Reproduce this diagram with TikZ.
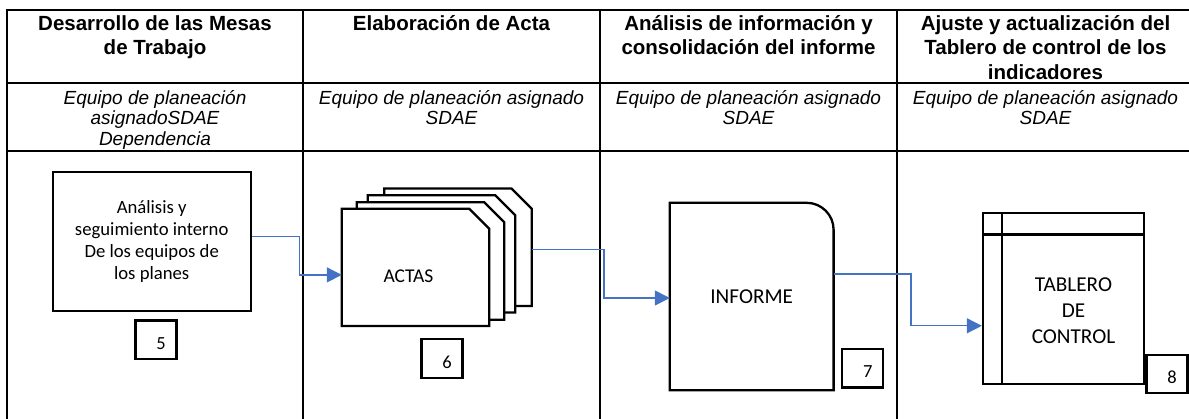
\documentclass[tikz,border=0pt]{standalone}
\usepackage{fontspec}
\usepackage{tikz}
\usetikzlibrary{arrows.meta}
\newfontfamily\arialfont{Liberation Sans}
\newfontfamily\calibrifont{Carlito}
\definecolor{flowblue}{HTML}{4472C4}
\tikzset{
  tabline/.style={line width=1.8pt, black},
  boxline/.style={line width=2.3pt, black},
  headtxt/.style={anchor=north, inner sep=0pt, align=center,
    font=\arialfont\bfseries\fontsize{20.5}{24.5}\selectfont},
  roletxt/.style={anchor=north, inner sep=0pt, align=center,
    font=\arialfont\itshape\fontsize{19}{20.5}\selectfont},
  procbox/.style={draw, boxline, inner sep=0pt, align=center,
    font=\calibrifont\fontsize{18.7}{22}\selectfont},
  card/.style={inner sep=0pt, minimum width=147pt, minimum height=117pt},
  cardline/.style={boxline, fill=white},
  bigtxt/.style={inner sep=0pt, align=center,
    font=\calibrifont\fontsize{21.2}{25.9}\selectfont},
  numbox/.style={draw, boxline, inner sep=0pt, minimum width=41pt, minimum height=38.5pt},
  numlbl/.style={xshift=5pt, yshift=-3.5pt, inner sep=0pt,
    font=\calibrifont\fontsize{18.5}{22}\selectfont},
  flow/.style={draw=flowblue, line width=1.3pt, -{Triangle[length=15pt,width=15pt]}}
}
\begin{document}
\begin{tikzpicture}[x=1pt,y=-1pt]
\useasboundingbox (0,0) rectangle (1189,419);
\draw[tabline] (7,419) -- (7,10) -- (1189,10);
\draw[tabline] (7,83) -- (1189,83);
\draw[tabline] (7,151) -- (1189,151);
\foreach \x in {303,600,897}
  \draw[tabline] (\x,10) -- (\x,419);

\node[headtxt] (h1) at (155,15) {Desarrollo de las Mesas\\de Trabajo};
\node[headtxt] (h2) at (451.5,15) {Elaboración de Acta};
\node[headtxt] (h3) at (748.5,15) {Análisis de información y\\consolidación del informe};
\node[headtxt] (h4) at (1045.5,15) {Ajuste y actualización del\\Tablero de control de los\\indicadores};

\node[roletxt] (r1) at (155,90) {Equipo de planeación\\asignadoSDAE\\Dependencia};
\node[roletxt] (r2) at (451.5,90) {Equipo de planeación asignado\\SDAE};
\node[roletxt] (r3) at (748.5,90) {Equipo de planeación asignado\\SDAE};
\node[roletxt] (r4) at (1045.5,90) {Equipo de planeación asignado\\SDAE};

\node[procbox, minimum width=198pt, minimum height=139.3pt] (b1) at (151.7,241.4)
  {Análisis y\\seguimiento interno\\De los equipos de\\los planes};
\node[numbox, label={[numlbl]center:5}] (n5) at (156,339.8) {};

\foreach \i/\dx/\dy in {4/42.5/20.1,3/26/13.5,2/15/6.4,1/0/0}{
  \node[card] (c\i) at (415.5+\dx,267.4-\dy) {};
  \draw[cardline] (c\i.south west) -- (c\i.north west) -- ([xshift=-20pt]c\i.north east)
    -- ([yshift=-20pt]c\i.north east) -- (c\i.south east) -- cycle;
}
\node[bigtxt, font=\calibrifont\fontsize{19.5}{23}\selectfont] (actas) at (408.5,276) {ACTAS};
\node[numbox, label={[numlbl]center:6}] (n6) at (442,358.5) {};

\node[inner sep=0pt, minimum width=163.4pt, minimum height=187pt, bigtxt] (inf) at (751.7,296.5) {INFORME};
\draw[boxline] (inf.south west) -- (inf.north west) -- ([xshift=-27pt]inf.north east)
  arc[start angle=90, end angle=0, radius=27pt] -- (inf.south east) -- cycle;
\node[numbox, label={[numlbl]center:7}] (n7) at (862.7,368.3) {};

\node[procbox, minimum width=161pt, minimum height=171pt] (tab) at (1063.5,298.8) {};
\draw[boxline] ([xshift=20pt]tab.north west) -- ([xshift=20pt]tab.south west);
\draw[boxline] ([yshift=-22.4pt]tab.north west) -- ([yshift=-22.4pt]tab.north east);
\node[bigtxt] (tabtxt) at (1073.5,311) {TABLERO\\DE\\CONTROL};
\node[numbox, label={[numlbl]center:8}] (n8) at (1167,374) {};

\draw[flow] ([yshift=5pt]b1.east) -- ++(47.3pt,0) |- ([yshift=-7.5pt]c1.west);
\draw[flow] ([yshift=-2.5pt]c4.east) -- ++(72.4pt,0) |- ([yshift=-1.5pt]inf.west);
\draw[flow] ([yshift=22.5pt]inf.east) -- ++(77.3pt,0) |- ([yshift=-27pt]tab.west);
\end{tikzpicture}
\end{document}
